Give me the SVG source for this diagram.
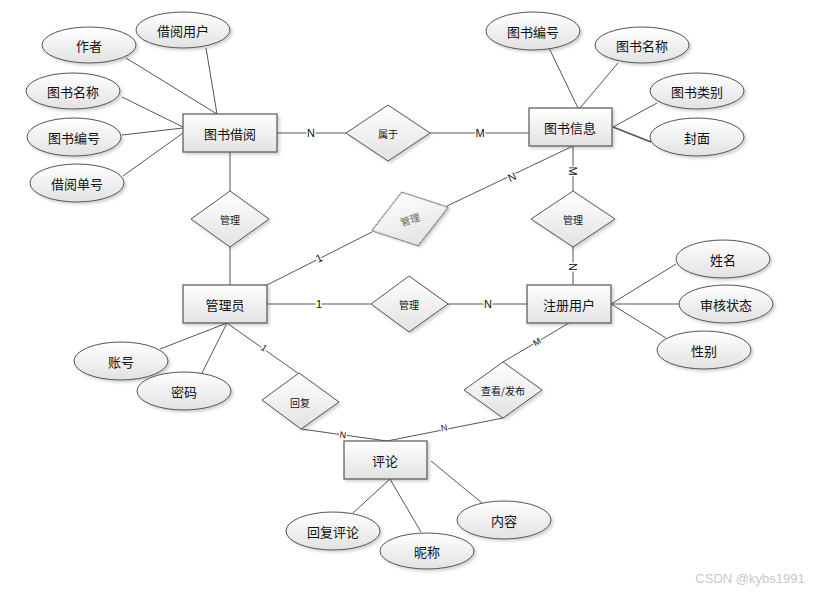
<svg xmlns="http://www.w3.org/2000/svg" width="828" height="598" viewBox="0 0 828 598">
<defs>
<linearGradient id="g" x1="0" y1="0" x2="0" y2="1">
<stop offset="0" stop-color="#ffffff"/>
<stop offset="1" stop-color="#e2e2e2"/>
</linearGradient>
<filter id="sh" x="-20%" y="-20%" width="150%" height="160%">
<feDropShadow dx="2" dy="2" stdDeviation="1.5" flood-color="#000" flood-opacity="0.18"/>
</filter>
<style>
.ent{fill:url(#g);stroke:#555;stroke-width:1.2;filter:url(#sh)}
.att{fill:url(#g);stroke:#555;stroke-width:1;filter:url(#sh)}
.rel{fill:url(#g);stroke:#555;stroke-width:1;filter:url(#sh)}
.ln{stroke:#555;stroke-width:1;fill:none}
.t{font-family:"Noto Sans CJK SC","Liberation Sans",sans-serif;font-size:13px;fill:#111;text-anchor:middle;dominant-baseline:central}
.tr{font-family:"Noto Sans CJK SC","Liberation Sans",sans-serif;font-size:10px;fill:#111;text-anchor:middle;dominant-baseline:central}
.c{font-family:"Liberation Sans",sans-serif;font-size:11px;fill:#111;text-anchor:middle;dominant-baseline:central;stroke:#fff;stroke-width:3;paint-order:stroke}
.cs{font-family:"Liberation Sans",sans-serif;font-size:9px;fill:#111;text-anchor:middle;dominant-baseline:central;stroke:#fff;stroke-width:2.5;paint-order:stroke}
</style>
</defs>
<rect width="828" height="598" fill="#fff"/>
<g id="connectors">
<line class="ln" x1="126" y1="58" x2="217" y2="114"/>
<line class="ln" x1="206" y1="48" x2="217" y2="114"/>
<line class="ln" x1="122" y1="97" x2="183" y2="127"/>
<line class="ln" x1="122" y1="135" x2="183" y2="128"/>
<line class="ln" x1="123" y1="176" x2="183" y2="133"/>
<line class="ln" x1="277" y1="133" x2="346" y2="133"/>
<line class="ln" x1="430" y1="133" x2="529" y2="133"/>
<line class="ln" x1="549" y1="48" x2="578" y2="108"/>
<line class="ln" x1="618" y1="63" x2="580" y2="108"/>
<line class="ln" x1="657" y1="103" x2="613" y2="127"/>
<line class="ln" x1="651" y1="142" x2="613" y2="127" style="stroke-width:1.6"/>
<line class="ln" x1="573" y1="146" x2="573" y2="191"/>
<line class="ln" x1="573" y1="247" x2="573" y2="285"/>
<line class="ln" x1="230" y1="152" x2="230" y2="191"/>
<line class="ln" x1="230" y1="247" x2="230" y2="285"/>
<line class="ln" x1="267" y1="285" x2="372" y2="232"/>
<line class="ln" x1="447" y1="206" x2="573" y2="146"/>
<line class="ln" x1="267" y1="304" x2="371" y2="304"/>
<line class="ln" x1="448" y1="304" x2="527" y2="304"/>
<line class="ln" x1="227" y1="323" x2="160" y2="349"/>
<line class="ln" x1="227" y1="323" x2="202" y2="373"/>
<line class="ln" x1="227" y1="323" x2="299" y2="374"/>
<line class="ln" x1="301" y1="429" x2="387" y2="441"/>
<line class="ln" x1="503" y1="418" x2="387" y2="441"/>
<line class="ln" x1="503" y1="362" x2="569" y2="323"/>
<line class="ln" x1="611" y1="304" x2="676" y2="264"/>
<line class="ln" x1="611" y1="304" x2="679" y2="304"/>
<line class="ln" x1="611" y1="304" x2="666" y2="338"/>
<line class="ln" x1="390" y1="479" x2="353" y2="513"/>
<line class="ln" x1="390" y1="479" x2="421" y2="532"/>
<line class="ln" x1="431" y1="461" x2="482" y2="503"/>
<text class="c" x="311" y="133">N</text>
<text class="c" x="480" y="133">M</text>
<text class="c" transform="translate(573,171) rotate(90)">M</text>
<text class="c" transform="translate(573,267) rotate(90)">N</text>
<text class="c" transform="translate(512,177) rotate(-25)">N</text>
<text class="c" transform="translate(319,258) rotate(-27)">1</text>
<text class="c" x="319" y="304">1</text>
<text class="c" x="488" y="304">N</text>
<text class="cs" transform="translate(264,348) rotate(35)">1</text>
<text class="cs" transform="translate(343,435) rotate(8)">N</text>
<text class="cs" transform="translate(444,428) rotate(-11)">N</text>
<text class="cs" transform="translate(537,342) rotate(-30)">M</text>
</g>
<g id="e-jieyue"><rect class="ent" x="183" y="114" width="94" height="38"/><text class="t" x="230" y="133">图书借阅</text></g>
<g id="e-tushu"><rect class="ent" x="529" y="108" width="83" height="38"/><text class="t" x="570" y="127">图书信息</text></g>
<g id="e-admin"><rect class="ent" x="183" y="285" width="84" height="38"/><text class="t" x="225" y="304">管理员</text></g>
<g id="e-user"><rect class="ent" x="527" y="285" width="84" height="38"/><text class="t" x="569" y="304">注册用户</text></g>
<g id="e-comment"><rect class="ent" x="344" y="441" width="83" height="38"/><text class="t" x="385" y="460">评论</text></g>
<g id="a-zuozhe"><ellipse class="att" cx="89" cy="45" rx="47" ry="18"/><text class="t" x="89" y="45">作者</text></g>
<g id="a-jieyueyonghu"><ellipse class="att" cx="183" cy="30" rx="47" ry="18"/><text class="t" x="183" y="30">借阅用户</text></g>
<g id="a-mingcheng1"><ellipse class="att" cx="73" cy="91" rx="47" ry="18"/><text class="t" x="73" y="91">图书名称</text></g>
<g id="a-bianhao1"><ellipse class="att" cx="74" cy="137" rx="47" ry="19"/><text class="t" x="74" y="137">图书编号</text></g>
<g id="a-danhao"><ellipse class="att" cx="77" cy="183" rx="47" ry="19"/><text class="t" x="77" y="183">借阅单号</text></g>
<g id="a-bianhao2"><ellipse class="att" cx="533" cy="31" rx="47" ry="19"/><text class="t" x="533" y="31">图书编号</text></g>
<g id="a-mingcheng2"><ellipse class="att" cx="642" cy="45" rx="47" ry="18"/><text class="t" x="642" y="45">图书名称</text></g>
<g id="a-leibie"><ellipse class="att" cx="697" cy="91" rx="47" ry="18"/><text class="t" x="697" y="91">图书类别</text></g>
<g id="a-fengmian"><ellipse class="att" cx="697" cy="137" rx="47" ry="19"/><text class="t" x="697" y="137">封面</text></g>
<g id="a-zhanghao"><ellipse class="att" cx="121" cy="361" rx="47" ry="19"/><text class="t" x="121" y="361">账号</text></g>
<g id="a-mima"><ellipse class="att" cx="184" cy="391" rx="47" ry="19"/><text class="t" x="184" y="391">密码</text></g>
<g id="a-xingming"><ellipse class="att" cx="723" cy="259" rx="47" ry="19"/><text class="t" x="723" y="259">姓名</text></g>
<g id="a-zhuangtai"><ellipse class="att" cx="726" cy="304" rx="47" ry="19"/><text class="t" x="726" y="304">审核状态</text></g>
<g id="a-xingbie"><ellipse class="att" cx="704" cy="350" rx="47" ry="19"/><text class="t" x="704" y="350">性别</text></g>
<g id="a-huifupinglun"><ellipse class="att" cx="333" cy="531" rx="47" ry="19"/><text class="t" x="333" y="531">回复评论</text></g>
<g id="a-nicheng"><ellipse class="att" cx="427" cy="551" rx="47" ry="18"/><text class="t" x="427" y="551">昵称</text></g>
<g id="a-neirong"><ellipse class="att" cx="504" cy="520" rx="47" ry="19"/><text class="t" x="504" y="520">内容</text></g>
<g id="r-shuyu"><polygon class="rel" points="346,133 388,105 430,133 388,161"/><text class="tr" x="388" y="133">属于</text></g>
<g id="r-guanli1"><polygon class="rel" points="191,219 230,191 269,219 230,247"/><text class="tr" x="230" y="219">管理</text></g>
<g id="r-guanli2"><g transform="translate(410,219) rotate(-17)"><polygon class="rel" points="-40,0 0,-28 40,0 0,28"/><text class="tr" x="0" y="0" style="fill:#666">管理</text></g></g>
<g id="r-guanli3"><polygon class="rel" points="531,219 573,191 615,219 573,247"/><text class="tr" x="573" y="219">管理</text></g>
<g id="r-guanli4"><polygon class="rel" points="371,304 409,276 448,304 409,332"/><text class="tr" x="409" y="304">管理</text></g>
<g id="r-huifu"><polygon class="rel" points="262,400 299,373 339,402 301,429"/><text class="tr" x="300" y="402">回复</text></g>
<g id="r-chakan"><polygon class="rel" points="464,390 503,362 542,390 503,418"/><text class="tr" x="503" y="390">查看/发布</text></g>
<text x="750" y="583" style="font-family:'Liberation Sans',sans-serif;font-size:13px;fill:#c8c8c8;text-anchor:middle">CSDN @kybs1991</text>
</svg>
